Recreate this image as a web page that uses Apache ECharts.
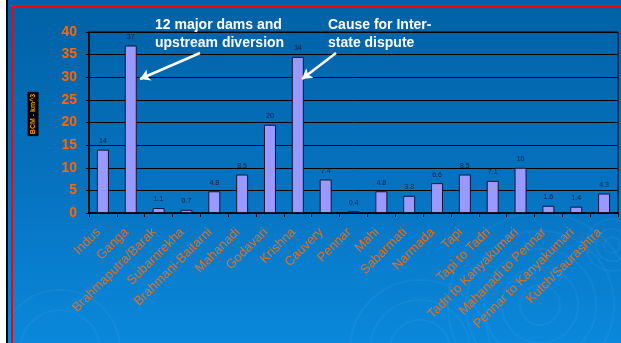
<!DOCTYPE html>
<html>
<head>
<meta charset="utf-8">
<script src="https://cdn.jsdelivr.net/npm/echarts@6/dist/echarts.min.js"></script>
<style>
  html, body { margin: 0; padding: 0; }
  #basin { width: 621px; height: 343px; }
</style>
</head>
<body>
<div id="basin"></div>
<script>
// river basins and their values (BCM)
const basins = ['Indus', 'Ganga', 'Brahmaputra/Barak', 'Subarnrekha', 'Brahmani-Baitarni',
  'Mahanadi', 'Godavari', 'Krishna', 'Cauvery', 'Pennar', 'Mahi', 'Sabarmati', 'Narmada',
  'Tapi', 'Tapi to Tadri', 'Tadri to Kanyakumari', 'Mahanadi to Pennar',
  'Pennar to Kanyakumari', 'Kutch/Saurashtra'];
const volumes = [14, 37, 1.1, 0.7, 4.8, 8.5, 19.5, 34.5, 7.4, 0.4, 4.8, 3.8, 6.6, 8.5, 7.1, 10, 1.6, 1.4, 4.3];
const volumeLabels = ['14', '37', '1.1', '0.7', '4.8', '8.5', '20', '34', '7.4', '0.4', '4.8', '3.8', '6.6', '8.5', '7.1', '10', '1.6', '1.4', '4.3'];
const yTicks = [0, 5, 10, 15, 20, 25, 30, 35, 40];

const font = '"Liberation Sans", Arial, sans-serif';
const chart = echarts.init(document.getElementById('basin'));

// faint ripple rings in the background
const ripples = [];
[[540, 305, [20, 38, 56, 74, 92]], [612, 245, [8, 16, 26]], [420, 350, [30, 50, 70]], [60, 350, [40, 60]]]
  .forEach(function (r) {
    r[2].forEach(function (rad) {
      ripples.push({
        type: 'circle', z: -9, silent: true,
        shape: { cx: r[0], cy: r[1], r: rad },
        style: { fill: null, stroke: 'rgba(140,200,255,0.07)', lineWidth: 2 }
      });
    });
  });

const option = {
  animation: false,
  graphic: {
    elements: [
      {
        type: 'rect', z: -10, silent: true,
        shape: { x: 0, y: 0, width: 621, height: 343 },
        style: {
          fill: new echarts.graphic.LinearGradient(0, 0, 0, 1, [
            { offset: 0, color: '#0061a5' },
            { offset: 0.55, color: '#0673c0' },
            { offset: 1, color: '#0a88db' }
          ])
        }
      },
      ...ripples,
      { type: 'rect', z: -8, silent: true, shape: { x: 0, y: 0, width: 6, height: 343 }, style: { fill: '#ffffff' } },
      { type: 'rect', z: -8, silent: true, shape: { x: 6, y: 0, width: 2, height: 343 }, style: { fill: '#000000' } },
      { type: 'rect', z: -8, silent: true, shape: { x: 11, y: 6, width: 2, height: 337 }, style: { fill: '#ff0000' } },
      { type: 'rect', z: -8, silent: true, shape: { x: 11, y: 6, width: 610, height: 2 }, style: { fill: '#ff0000' } },
      {
        type: 'text', z: 10,
        x: 33, y: 114, rotation: Math.PI / 2,
        style: {
          text: 'BCM - km^3', fill: '#ff9900', font: 'bold 7px ' + font,
          align: 'center', verticalAlign: 'middle',
          backgroundColor: '#000000', padding: [2, 2]
        }
      },
      {
        type: 'text', z: 10, x: 155, y: 16,
        style: {
          text: '12 major dams and\nupstream diversion', fill: '#ffffff',
          font: 'bold 14px ' + font, lineHeight: 18
        }
      },
      {
        type: 'text', z: 10, x: 328, y: 16,
        style: {
          text: 'Cause for Inter-\nstate dispute', fill: '#ffffff',
          font: 'bold 14px ' + font, lineHeight: 18
        }
      }
    ]
  },
  grid: {
    left: 89, right: 3, top: 32, bottom: 130,
    show: true, borderColor: '#000000', borderWidth: 1,
    backgroundColor: 'transparent'
  },
  xAxis: {
    type: 'category',
    data: basins,
    axisLine: { lineStyle: { color: '#000000', width: 1.5 } },
    axisTick: { show: true, length: 4, lineStyle: { color: '#000000' } },
    axisLabel: {
      interval: 0, rotate: 45, margin: 13, padding: [0, 6, 0, 0],
      color: '#e8701a', fontSize: 13, fontFamily: font
    }
  },
  yAxis: {
    type: 'value',
    min: 0, max: 40, interval: 5,
    axisLine: { show: true, lineStyle: { color: '#000000', width: 1.5 } },
    axisTick: { show: true, length: 3, lineStyle: { color: '#000000' } },
    splitLine: { lineStyle: { color: '#000000', width: 1 } },
    axisLabel: {
      margin: 12, color: '#ff6600', fontSize: 14, fontWeight: 'bold', fontFamily: font,
      formatter: function (v) { return yTicks.indexOf(v) >= 0 ? String(v) : ''; }
    }
  },
  series: [{
    type: 'bar',
    data: volumes,
    barWidth: 12,
    itemStyle: { color: '#9999ff', borderColor: '#14143a', borderWidth: 1 },
    label: {
      show: true, position: 'top', distance: 5,
      color: '#10203a', fontSize: 7, fontFamily: font,
      formatter: function (p) { return volumeLabels[p.dataIndex]; }
    },
    markLine: {
      silent: true,
      symbol: ['none', 'arrow'],
      symbolSize: [9, 10],
      label: { show: false },
      lineStyle: { color: '#ffffff', width: 2.5, type: 'solid' },
      data: [
        [{ x: 200, y: 53 }, { x: 140, y: 79 }],
        [{ x: 336, y: 53 }, { x: 302, y: 79 }]
      ]
    }
  }]
};

chart.setOption(option);
</script>
</body>
</html>
